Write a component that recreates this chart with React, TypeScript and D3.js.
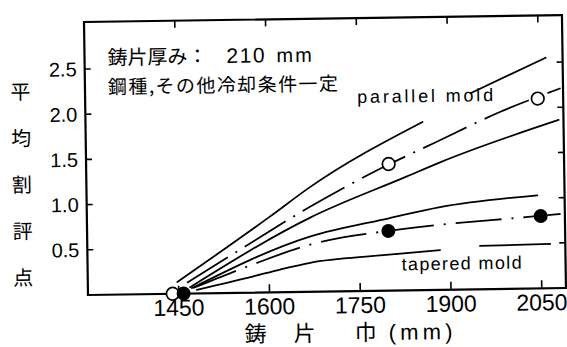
import React from 'react';
import * as d3 from 'd3';

// Axis ticks
const widthTicks = [1450, 1600, 1750, 1900, 2050];
const scoreTicks = [0.5, 1.0, 1.5, 2.0, 2.5];

// Parallel mold band: upper bound, mean (dash-dot), lower bound. [width mm, score]
const parallelUpper: [number, number][][] = [
  [[1448, 0.13], [1603, 0.84], [1670, 1.16], [1857, 1.86]],
  [[1937, 2.17], [2062, 2.55]],
];
const parallelMean: [number, number][] = [
  [1464, 0.12], [1558, 0.5], [1669, 0.94], [1789, 1.36], [1874, 1.62], [1986, 1.96], [2086, 2.21],
];
const parallelLower: [number, number][][] = [
  [[1469, 0.07], [1669, 0.82], [1830, 1.26], [1885, 1.41], [2082, 1.86]],
];

// Tapered mold band
const taperedUpper: [number, number][][] = [
  [[1472, 0.06], [1668, 0.61], [1799, 0.8], [1884, 0.915], [2045, 1.03]],
];
const taperedMean: [number, number][] = [
  [1474, 0.06], [1540, 0.23], [1585, 0.34], [1668, 0.52], [1718, 0.59], [1798, 0.66], [1884, 0.72], [2025, 0.79], [2083, 0.82],
];
const taperedLower: [number, number][][] = [
  [[1480, 0.04], [1574, 0.18], [1618, 0.25], [1668, 0.32], [1784, 0.39], [1883, 0.44]],
  [[1949, 0.48], [2065, 0.49]],
];

// Measured means
const parallelPoints: [number, number][] = [[1440, 0], [1800, 1.4], [2048, 2.1]];
const taperedPoints: [number, number][] = [[1458, 0], [1798, 0.66], [2050, 0.8]];

const yTitleChars = ['平', '均', '割', '評', '点'];
const xTitleChars = ['鋳', '片', '巾'];

const LEFT = 88;
const RIGHT = 566;
const TOP = 22;
const BOTTOM = 295;

export default function App() {
  const x = d3.scaleLinear().domain([1300, 2090]).range([LEFT, RIGHT]);
  const y = d3.scaleLinear().domain([0, 3.02]).range([BOTTOM, TOP]);
  const line = d3
    .line<[number, number]>()
    .x((d) => x(d[0]))
    .y((d) => y(d[1]))
    .curve(d3.curveMonotoneX);

  const ink = '#000';
  const cjk = '"Noto Sans CJK JP", sans-serif';
  const latin = '"Liberation Sans", Arial, sans-serif';
  const latinFirst = '"Liberation Sans", "Noto Sans CJK JP", sans-serif';
  const solid = { fill: 'none', stroke: ink, strokeWidth: 1.8, strokeLinecap: 'round' as const };

  const yTitleY = d3.scaleLinear().domain([0, yTitleChars.length - 1]).range([91, 277]);
  const xTitleX = [255, 304, 365];

  return (
    <svg
      width={567}
      height={347}
      style={{ position: 'absolute', left: 0, top: 0, background: '#fff' }}
    >
      <rect x={0} y={0} width={567} height={347} fill="#fff" />
      <g transform={`rotate(-0.84 ${LEFT} ${BOTTOM})`}>
        {/* frame */}
        <rect
          x={LEFT}
          y={TOP}
          width={RIGHT - LEFT}
          height={BOTTOM - TOP}
          fill="none"
          stroke={ink}
          strokeWidth={2.2}
        />
        {/* ticks */}
        {widthTicks.map((t) => (
          <g key={'wt' + t}>
            <line x1={x(t)} x2={x(t)} y1={BOTTOM} y2={BOTTOM - 8} stroke={ink} strokeWidth={1.6} />
            <line x1={x(t)} x2={x(t)} y1={TOP} y2={TOP + 7} stroke={ink} strokeWidth={1.6} />
            <text
              x={x(t)}
              y={317}
              textAnchor="middle"
              fontFamily={latin}
              fontSize={23}
              fill={ink}
            >
              {t}
            </text>
          </g>
        ))}
        {scoreTicks.map((t) => (
          <g key={'st' + t}>
            <line x1={LEFT} x2={LEFT + 6} y1={y(t)} y2={y(t)} stroke={ink} strokeWidth={1.6} />
            <line x1={RIGHT} x2={RIGHT - 6} y1={y(t)} y2={y(t)} stroke={ink} strokeWidth={1.6} />
            <text
              x={80}
              y={y(t)}
              dy="0.36em"
              textAnchor="end"
              fontFamily={latin}
              fontSize={20}
              fill={ink}
            >
              {t.toFixed(1)}
            </text>
          </g>
        ))}

        {/* bands */}
        {[...parallelUpper, ...parallelLower, ...taperedUpper, ...taperedLower].map((seg, i) => (
          <path key={'s' + i} d={line(seg) || ''} {...solid} />
        ))}
        <path d={line(parallelMean) || ''} {...solid} strokeDasharray="48 9 2 9" strokeLinecap="butt" />
        <path d={line(taperedMean) || ''} {...solid} strokeDasharray="46 10 2 10" strokeLinecap="butt" />

        {/* markers */}
        {parallelPoints.map((d, i) => (
          <circle key={'po' + i} cx={x(d[0])} cy={y(d[1])} r={6.3} fill="#fff" stroke={ink} strokeWidth={1.7} />
        ))}
        {taperedPoints.map((d, i) => (
          <circle key={'tp' + i} cx={x(d[0])} cy={y(d[1])} r={7} fill={ink} />
        ))}

        {/* band labels */}
        <text x={360} y={107} fontFamily={latin} fontSize={18} textLength={136} lengthAdjust="spacing" fill={ink}>
          parallel mold
        </text>
        <text x={402} y={275} fontFamily={latin} fontSize={18} textLength={120} lengthAdjust="spacing" fill={ink}>
          tapered mold
        </text>

        {/* conditions */}
        <text y={65} fontFamily={cjk} fontSize={20} fill={ink}>
          <tspan x={111}>鋳片厚み：</tspan>
          <tspan x={230} fontFamily={latin} fontSize={21} letterSpacing={1.5}>210</tspan>
          <tspan x={280} fontFamily={latin} fontSize={20} letterSpacing={2}>mm</tspan>
        </text>
        <text x={111} y={94} fontFamily={cjk} fontSize={19} textLength={230} lengthAdjust="spacing" fill={ink}>
          鋼種,その他冷却条件一定
        </text>

        {/* axis titles */}
        {yTitleChars.map((c, i) => (
          <text
            key={'yc' + i}
            x={23.5}
            y={yTitleY(i)}
            dy="0.36em"
            textAnchor="middle"
            fontFamily={cjk}
            fontSize={20}
            fill={ink}
          >
            {c}
          </text>
        ))}
        {xTitleChars.map((c, i) => (
          <text
            key={'xc' + i}
            x={xTitleX[i]}
            y={336.5}
            dy="0.36em"
            textAnchor="middle"
            fontFamily={latinFirst}
            fontSize={22}
            fill={ink}
          >
            {c}
          </text>
        ))}
        <text x={388} y={336.5} dy="0.36em" fontFamily={latin} fontSize={22} textLength={64} lengthAdjust="spacing" fill={ink}>
          (mm)
        </text>
      </g>
    </svg>
  );
}
